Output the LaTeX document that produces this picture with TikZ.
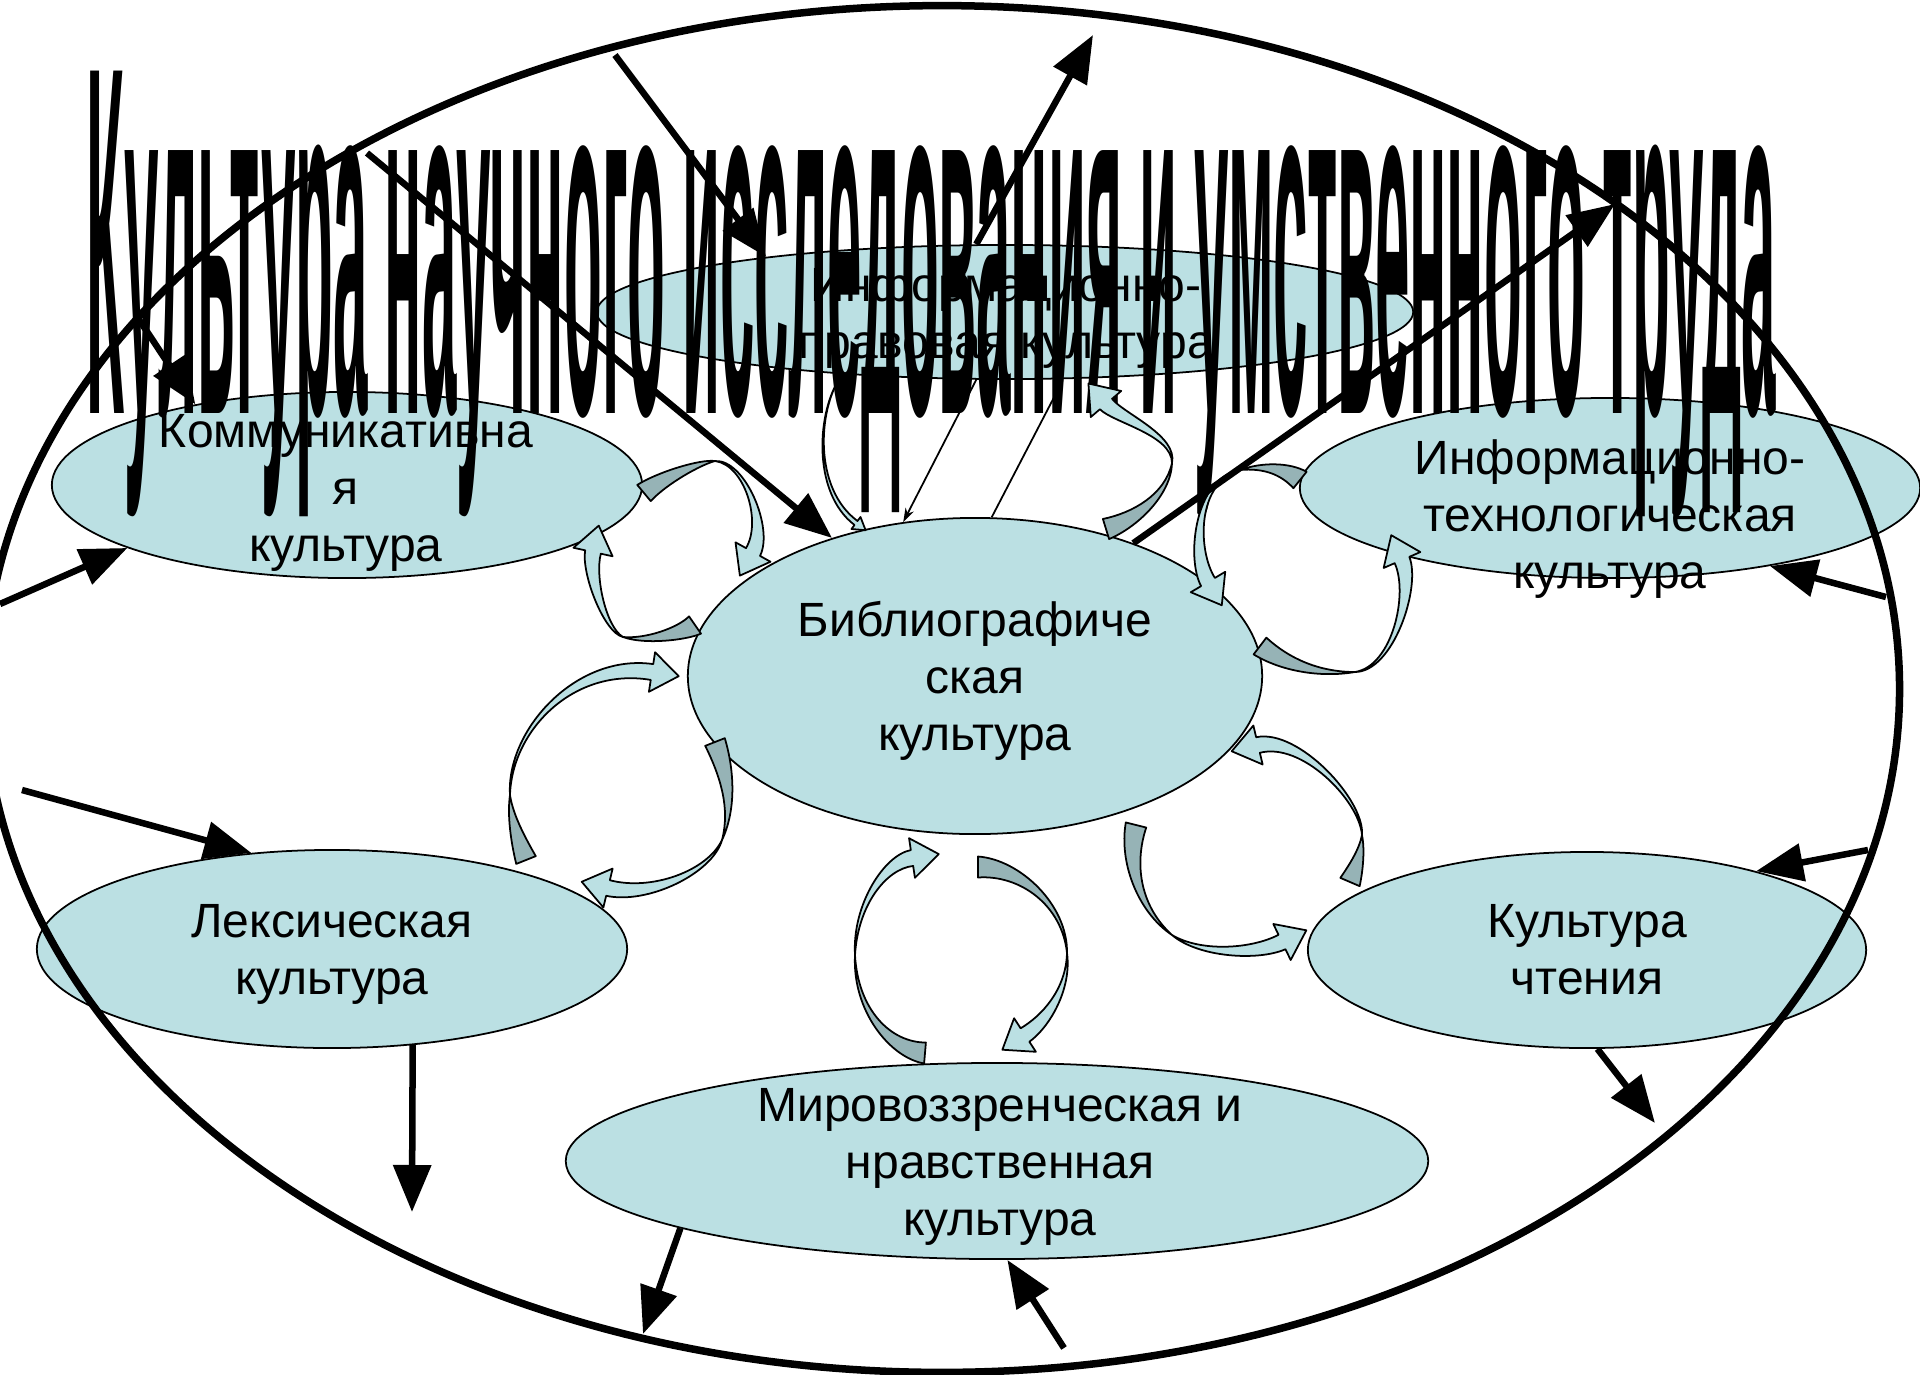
\documentclass[tikz,border=0pt]{standalone}
\usepackage{fontspec}
\setmainfont{Liberation Sans}
\usepackage{graphicx}
\usetikzlibrary{shapes.geometric, arrows.meta, calc}
\definecolor{clight}{HTML}{BBE0E3}
\definecolor{cdark}{HTML}{96B3B6}

% dark (back) part of a curved block arrow: tail T, controls A B, twist point M
\newcommand{\darkpart}[4]{%
  \coordinate (qT) at (#1); \coordinate (qA) at (#2);
  \coordinate (qB) at (#3); \coordinate (qM) at (#4);
  \filldraw[fill=cdark, draw=black, line width=0.5pt, line join=round]
    ($(qT)!0.105cm!90:(qA)$) .. controls ($(qA)!0.075cm!-90:(qT)$) and ($(qB)!0.03cm!90:(qM)$) .. (qM)
    .. controls ($(qB)!0.03cm!-90:(qM)$) and ($(qA)!0.075cm!90:(qT)$) .. ($(qT)!0.105cm!-90:(qA)$) -- cycle;
}
% light (front) part with head: M, controls C D, head base E, widths
\newcommand{\lightpart}[9]{%
  \coordinate (qM) at (#1); \coordinate (qC) at (#2);
  \coordinate (qD) at (#3); \coordinate (qE) at (#4);
  \filldraw[fill=clight, draw=black, line width=0.5pt, line join=round]
    (qM) .. controls ($(qC)!#5!-90:(qM)$) and ($(qD)!#6!90:(qE)$) .. ($(qE)!#7!-90:(qD)$)
    -- ($(qE)!#8!-90:(qD)$) -- ($(qE)!-#9!(qD)$) -- ($(qE)!#8!90:(qD)$) -- ($(qE)!#7!90:(qD)$)
    .. controls ($(qD)!#6!-90:(qE)$) and ($(qC)!#5!90:(qM)$) .. (qM) -- cycle;
}
\newcommand{\carrow}[7]{%
  \darkpart{#1}{#2}{#3}{#4}%
  \lightpart{#4}{#5}{#6}{#7}{0.03cm}{0.07cm}{0.08cm}{0.2cm}{0.27cm}%
}

\begin{document}
\begin{tikzpicture}[x=0.01cm, y=-0.01cm,
  nodeell/.style={ellipse, draw=black, line width=0.5pt, fill=clight, inner sep=0pt},
  lbl/.style={font=\fontsize{13.66pt}{16.22pt}\selectfont, align=center, inner sep=0pt},
  bigarrow/.style={line width=0.065cm, -{Triangle[length=0.47cm, width=0.37cm]}},
  thinarrow/.style={line width=0.5pt, -{Stealth[length=0.14cm, width=0.09cm]}}]
\useasboundingbox (0,0) rectangle (1920,1375);
\fill[white] (0,0) rectangle (1920,1375);

% culture ellipses
\node[nodeell, minimum width=8.16cm, minimum height=1.34cm] (ip) at (1005,312) {};
\node[nodeell, minimum width=5.90cm, minimum height=1.86cm] (km) at (347,485) {};
\node[nodeell, minimum width=6.20cm, minimum height=1.80cm] (it) at (1610,488) {};
\node[nodeell, minimum width=5.74cm, minimum height=3.16cm] (bib) at (975,676) {};
\node[nodeell, minimum width=5.90cm, minimum height=1.98cm] (lx) at (332,949) {};
\node[nodeell, minimum width=5.58cm, minimum height=1.96cm] (kc) at (1587,950) {};
\node[nodeell, minimum width=8.62cm, minimum height=1.96cm] (mv) at (997,1161) {};

% big outer ellipse
\node[ellipse, draw=black, line width=0.075cm, minimum width=19.14cm, minimum height=13.66cm, inner sep=0pt] (outer) at (942,689) {};

% labels
\node[lbl] (ipt) at (1006,317.5) {Информационно-\\правовая культура};
\node[lbl] (kmt) at (346,493) {Коммуникативна\\я\\культура};
\node[lbl] (itt) at (1610,519.5) {Информационно-\\технологическая\\культура};
\node[lbl] (bibt) at (975,681) {Библиографиче\\ская\\культура};
\node[lbl] (lxt) at (332,954) {Лексическая\\культура};
\node[lbl] (kct) at (1587,949.5) {Культура\\чтения};
\node[lbl] (mvt) at (1000,1166.5) {Мировоззренческая и\\нравственная\\культура};

% title
\node[anchor=base west, inner sep=0pt] (title) at (86,413)
  {\resizebox{16.88cm}{3.42cm}{\bfseries Культура научного исследования и умственного труда}};

% curved block arrows
\carrow{644,493}{662,478}{700,462}{715,461}{745,462}{768,525}{753,552}
\carrow{695,625}{682,634}{645,642}{623,637}{605,630}{588,575}{593,552}
\lightpart{840,378}{818,410}{812,490}{856,523}{0.004cm}{0.02cm}{0.025cm}{0.075cm}{0.12cm}
\carrow{1106,529}{1135,520}{1168,495}{1172,463}{1175,435}{1118,418}{1106,404}
\carrow{1300,480}{1285,468}{1262,465}{1240,470}{1195,480}{1192,555}{1208,582}
\carrow{1260,646}{1285,665}{1320,675}{1355,672}{1393,669}{1415,590}{1402,560}
\carrow{1350,882}{1356,868}{1362,850}{1362,835}{1362,800}{1300,735}{1258,745}
\carrow{1136,825}{1126,865}{1140,910}{1172,935}{1200,955}{1255,955}{1282,942}
\carrow{925,1053}{890,1050}{855,1010}{855,955}{855,905}{885,862}{912,858}
\carrow{978,867}{1020,867}{1065,905}{1067,953}{1069,990}{1045,1022}{1025,1035}
\carrow{526,860}{518,840}{510,815}{510,795}{509,730}{575,660}{652,672}
\carrow{715,742}{728,775}{733,810}{722,840}{710,872}{650,898}{608,888}

% straight arrows
\coordinate (o1) at (615,55);
\coordinate (o2) at (367,153);
\coordinate (o3) at (1093,35);
\coordinate (o4) at (1615,204);
\coordinate (o5) at (1886,597);
\coordinate (o6) at (0,604);
\coordinate (o7) at (22,790);
\coordinate (o8) at (412,1212);
\coordinate (o9) at (643,1334);
\coordinate (o10) at (1064,1348);
\coordinate (o11) at (1655,1123);
\coordinate (o12) at (1868,850);
\coordinate (o13) at (138,318);
\draw[bigarrow] (o1) -- (ip.167);
\draw[bigarrow] (o2) -- (bib.136.5);
\draw[bigarrow] (ip.113.5) -- (o3);
\draw[bigarrow] (bib.40) -- (o4);
\draw[bigarrow] (o5) -- (it.-26.4);
\draw[bigarrow] (o6) -- (km.196.4);
\draw[bigarrow] (o7) -- (lx.130.3);
\draw[bigarrow] (lx.-50) -- (o8);
\draw[bigarrow] (mv.192.3) -- (o9);
\draw[bigarrow] (o10) -- (mv.-84.9);
\draw[bigarrow] (kc.-84.1) -- (o11);
\draw[bigarrow] (o12) -- (kc.25.6);
\draw[bigarrow] (o13) -- (km.152.8);
\draw[thinarrow] (ip.-113.1) -- (bib.115.25);
\draw[thinarrow] (bib.84.6) -- (ip.-49.8);
\end{tikzpicture}
\end{document}
